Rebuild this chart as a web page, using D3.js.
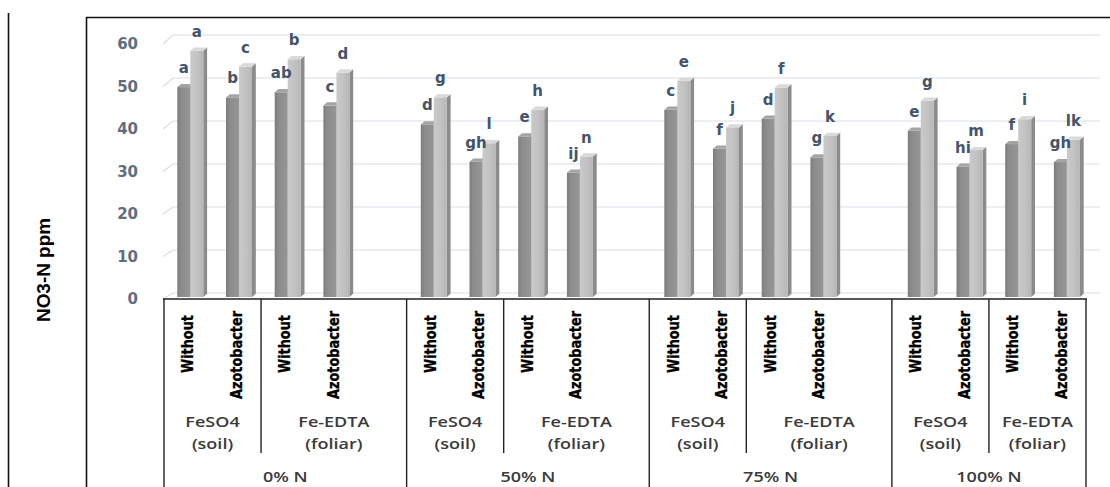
<!DOCTYPE html>
<html>
<head>
<meta charset="utf-8">
<script src="https://cdn.jsdelivr.net/npm/d3@7/dist/d3.min.js"></script>
<style>
  html, body { margin: 0; padding: 0; background: #ffffff; }
  svg { display: block; }
</style>
</head>
<body>
<svg id="chart" width="1110" height="487"></svg>
<script>
// ---- data -------------------------------------------------------------
const nitrogenLevels = ["0% N", "50% N", "75% N", "100% N"];
const ironForms = [["FeSO4", "(soil)"], ["Fe-EDTA", "(foliar)"]];
const inoculation = ["Without", "Azotobacter"];

// NO3-N (ppm), ordered: N level → iron form → inoculation
const series1Values = [
  49.0, 46.6, 47.8, 44.7,
  40.3, 31.6, 37.5, 29.0,
  43.7, 34.6, 41.6, 32.6,
  38.8, 30.4, 35.7, 31.5
];
const series2Values = [
  57.5, 53.8, 55.5, 52.4,
  46.6, 35.9, 43.7, 32.8,
  50.5, 39.6, 48.9, 37.6,
  45.8, 34.3, 41.5, 36.7
];
const series1Letters = [
  "a", "b", "ab", "c",
  "d", "gh", "e", "ij",
  "c", "f", "d", "g",
  "e", "hi", "f", "gh"
];
const series2Letters = [
  "a", "c", "b", "d",
  "g", "l", "h", "n",
  "e", "j", "f", "k",
  "g", "m", "i", "lk"
];
const yTicks = [0, 10, 20, 30, 40, 50, 60];
const yTitle = "NO3-N ppm";

// ---- category slots (an empty slot closes every N level but the last) --
const slots = [];
let k = 0;
nitrogenLevels.forEach((n, ni) => {
  ironForms.forEach((f, fi) => {
    inoculation.forEach((ino) => {
      slots.push({ id: "s" + slots.length, n: ni, f: fi, ino, idx: k });
      k++;
    });
  });
  if (ni < nitrogenLevels.length - 1) {
    slots.push({ id: "s" + slots.length, n: ni, f: 1, ino: null, idx: null });
  }
});
const slotIds = slots.map(s => s.id);

// ---- scales -----------------------------------------------------------
const tableX = d3.scaleBand().domain(slotIds).range([164, 1086]).padding(0);
const barX = d3.scaleBand().domain(slotIds).range([177.3, 177.3 + 48.7 * slotIds.length]).padding(0);
const yFront = d3.scaleLinear().domain([0, 60]).range([299, 44]);
const yBack = d3.scaleLinear().domain([0, 60]).range([293, 35]);
const yBar = d3.scaleLinear().domain([0, 60]).range([297, 40]);

const svg = d3.select("#chart");
const defs = svg.append("defs");

function hGrad(id, stops) {
  const g = defs.append("linearGradient").attr("id", id)
    .attr("x1", "0%").attr("x2", "100%").attr("y1", "0%").attr("y2", "0%");
  stops.forEach(([o, c]) => g.append("stop").attr("offset", o).attr("stop-color", c));
}
hGrad("darkFront", [["0%", "#7d7d7d"], ["30%", "#8c8c8c"], ["100%", "#969696"]]);
hGrad("lightFront", [["0%", "#cacaca"], ["60%", "#c1c1c1"], ["100%", "#b6b6b6"]]);

// ---- outer frame ------------------------------------------------------
const frame = svg.append("g").attr("stroke", "#111").attr("stroke-width", 1.6).attr("fill", "none");
frame.append("line").attr("x1", 8.5).attr("x2", 8.5).attr("y1", 13).attr("y2", 487);
frame.append("line").attr("x1", 86.5).attr("x2", 86.5).attr("y1", 17).attr("y2", 487);
frame.append("line").attr("x1", 86).attr("x2", 1110).attr("y1", 17.5).attr("y2", 17.5);

// ---- back wall gridlines ----------------------------------------------
const gridRight = 1100;
svg.append("g").selectAll("path").data(yTicks).join("path")
  .attr("d", v => `M163,${yFront(v)}L173,${yBack(v)}L${gridRight},${yBack(v)}`)
  .attr("fill", "none")
  .attr("stroke", "#d8dde6")
  .attr("stroke-width", 1.2);

// ---- y axis labels ----------------------------------------------------
const yAxis = d3.axisLeft(yFront).tickValues(yTicks).tickSize(0).tickPadding(2);
const yAxisG = svg.append("g").attr("transform", "translate(140,0)").call(yAxis);
yAxisG.select(".domain").remove();
yAxisG.selectAll("text")
  .attr("font-family", "DejaVu Sans, Verdana, sans-serif")
  .attr("font-weight", "bold")
  .attr("font-size", 15)
  .attr("fill", "#5f6d82");

svg.append("text")
  .attr("transform", "translate(50,270) rotate(-90)")
  .attr("text-anchor", "middle")
  .attr("font-family", "Liberation Sans, Arial, sans-serif")
  .attr("font-weight", "bold")
  .attr("font-size", 19)
  .attr("textLength", 104)
  .attr("lengthAdjust", "spacingAndGlyphs")
  .attr("fill", "#000")
  .text(yTitle);

// ---- 3D bars ----------------------------------------------------------
const faceW = 13, dx = 3.8, dy = 3.2;
const dataSlots = slots.filter(s => s.idx !== null);
const bars = svg.append("g");

function drawBar(g, x, v, frontFill, topFill, sideFill) {
  const yt = yBar(v), yb = yBar(0);
  g.append("polygon")
    .attr("points", [[x + faceW, yt], [x + faceW + dx, yt - dy], [x + faceW + dx, yb - dy], [x + faceW, yb]].join(" "))
    .attr("fill", sideFill);
  g.append("rect").attr("x", x).attr("y", yt).attr("width", faceW).attr("height", yb - yt)
    .attr("fill", frontFill);
  g.append("polygon")
    .attr("points", [[x, yt], [x + dx, yt - dy], [x + faceW + dx, yt - dy], [x + faceW, yt]].join(" "))
    .attr("fill", topFill);
}

dataSlots.forEach(s => {
  const x = barX(s.id);
  const g = bars.append("g");
  drawBar(g, x, series1Values[s.idx], "url(#darkFront)", "#a4a4a4", "#6f6f6f");
  drawBar(g, x + faceW, series2Values[s.idx], "url(#lightFront)", "#d9d9d9", "#8b8b8b");
});

// ---- significance letters --------------------------------------------
const letterG = svg.append("g")
  .attr("font-family", "DejaVu Sans, Verdana, sans-serif")
  .attr("font-weight", "bold")
  .attr("font-size", 15)
  .attr("fill", "#44546a")
  .attr("text-anchor", "middle");

dataSlots.forEach(s => {
  const x = barX(s.id);
  letterG.append("text")
    .attr("x", x + faceW / 2)
    .attr("y", yBar(series1Values[s.idx]) - 14)
    .text(series1Letters[s.idx]);
  letterG.append("text")
    .attr("x", x + faceW * 1.5)
    .attr("y", yBar(series2Values[s.idx]) - 14)
    .text(series2Letters[s.idx]);
});

// ---- category table ---------------------------------------------------
const table = svg.append("g");
const tableTop = 299, tableBottom = 487, innerBottom = 453;
const xEnd = tableX.range()[1];

table.append("line")
  .attr("x1", 163).attr("x2", xEnd + 1).attr("y1", tableTop).attr("y2", tableTop)
  .attr("stroke", "#222").attr("stroke-width", 1.6);

// boxes per N level and per iron form
const levelBoxes = nitrogenLevels.map((n, ni) => {
  const own = slots.filter(s => s.n === ni);
  const x0 = tableX(own[0].id);
  const x1 = ni < nitrogenLevels.length - 1 ? tableX(slots.find(s => s.n === ni + 1).id) : xEnd;
  const split = tableX(own.find(s => s.f === 1).id);
  return { n, x0, x1, split };
});

levelBoxes.forEach((b, i) => {
  table.append("line").attr("x1", b.x0).attr("x2", b.x0).attr("y1", tableTop).attr("y2", tableBottom)
    .attr("stroke", "#222").attr("stroke-width", 1.4);
  table.append("line").attr("x1", b.split).attr("x2", b.split).attr("y1", tableTop).attr("y2", innerBottom)
    .attr("stroke", "#222").attr("stroke-width", 1.4);
  if (i === levelBoxes.length - 1) {
    table.append("line").attr("x1", b.x1).attr("x2", b.x1).attr("y1", tableTop).attr("y2", tableBottom)
      .attr("stroke", "#222").attr("stroke-width", 1.4);
  }
});

// rotated inoculation labels
const rotG = svg.append("g")
  .attr("font-family", "Liberation Sans Narrow, DejaVu Sans Condensed, Arial Narrow, sans-serif")
  .attr("font-weight", "bold")
  .attr("font-size", 15.5)
  .attr("fill", "#000")
  .attr("text-anchor", "end");
dataSlots.forEach(s => {
  const cx = tableX(s.id) + tableX.bandwidth() / 2 + 5;
  const isWithout = s.ino === inoculation[0];
  rotG.append("text")
    .attr("transform", `translate(${cx},${isWithout ? 315 : 311}) rotate(-90)`)
    .attr("textLength", isWithout ? 58 : 88)
    .attr("lengthAdjust", "spacingAndGlyphs")
    .attr("stroke", "#000")
    .attr("stroke-width", 0.3)
    .text(s.ino);
});

// iron form and N level labels
const catG = svg.append("g")
  .attr("font-family", "Open Sans, Noto Sans, sans-serif")
  .attr("font-weight", 600)
  .attr("font-size", 15)
  .attr("fill", "#3a3a3a")
  .attr("text-anchor", "middle");

function wideText(x, y, str) {
  const t = catG.append("text").attr("x", x).attr("y", y).text(str);
  const len = t.node().getComputedTextLength();
  t.attr("textLength", len * 1.2).attr("lengthAdjust", "spacingAndGlyphs");
}

levelBoxes.forEach(b => {
  const c0 = (b.x0 + b.split) / 2;
  const c1 = (b.split + b.x1) / 2;
  wideText(c0, 427, ironForms[0][0]);
  wideText(c0, 449, ironForms[0][1]);
  wideText(c1, 427, ironForms[1][0]);
  wideText(c1, 449, ironForms[1][1]);
  wideText((b.x0 + b.x1) / 2, 482, b.n);
});
</script>
</body>
</html>
